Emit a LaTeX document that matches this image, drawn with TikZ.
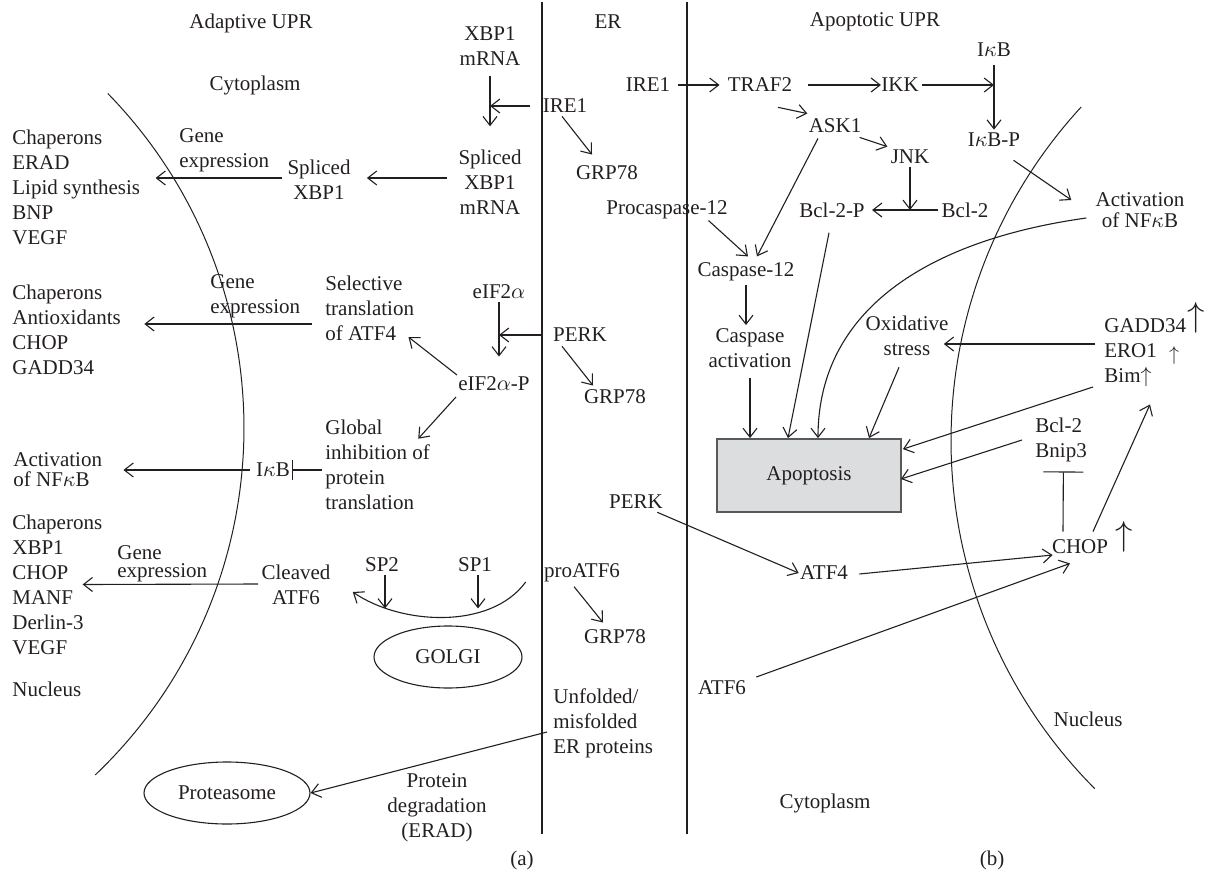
\documentclass[tikz,border=0pt]{standalone}
\usepackage{fontspec}
\setmainfont{Liberation Serif}
\usetikzlibrary{arrows.meta,shapes.geometric,calc}
\definecolor{ink}{HTML}{231F20}
\definecolor{boxfill}{HTML}{DCDDDE}
\definecolor{boxline}{HTML}{58595B}
\begin{document}
\begin{tikzpicture}[x=0.5pt,y=-0.5pt,
  every node/.style={font=\fontsize{10.5}{12.5}\selectfont, text=ink, inner sep=1.5pt},
  lbl/.style={align=center},
  lbll/.style={align=left, anchor=west},
  con/.style={draw=ink, line width=0.55pt},
  arr/.style={con, -{Straight Barb[length=4.5pt,width=7pt]}},
  inh/.style={con, -{Bar[width=10pt]}},
  inhwide/.style={con, -{Bar[width=20pt]}},
  oval/.style={ellipse, draw=ink, line width=0.55pt, inner sep=0pt},
  upglyph/.style={inner sep=0pt, text=ink}
]
\useasboundingbox (0,0) rectangle (1216,884);

% membranes
\draw[con] (542,2) -- (542,834);
\draw[con] (687,2) -- (687,834);
\draw[draw=ink, line width=0.5pt] plot[domain=-44.3:46.4, samples=90] ({-235+479*cos(\x)}, {428+479*sin(\x)});
\draw[draw=ink, line width=0.5pt] plot[domain=222.6:135.1, samples=90] ({1444+493*cos(\x)}, {440.7+493*sin(\x)});

% ---------------- left panel ----------------
\node (adapt) at (251,23) {Adaptive UPR};
\node (cytoL) at (255,85) {Cytoplasm};
\node (er) at (608,22) {ER};
\node[lbll] (prodA) at (9,187) {Chaperons\\ERAD\\Lipid synthesis\\BNP\\VEGF};
\node[lbll] (geneA) at (176,150) {Gene\\expression};
\node[lbl] (sxbp) at (319,180) {Spliced\\XBP1};
\node[lbl] (xbpm) at (490,46) {XBP1\\mRNA};
\node[lbl] (sxbpm) at (490,182) {Spliced\\XBP1\\mRNA};
\node (ireL) at (565,106) {IRE1};
\node (grpA) at (607,173) {GRP78};

\node[lbll] (prodB) at (9,330) {Chaperons\\Antioxidants\\CHOP\\GADD34};
\node[lbll] (geneB) at (207,296) {Gene\\expression};
\node[lbll] (sel) at (322,308) {Selective\\translation\\of ATF4};
\node (eif) at (499,292) {eIF2$\alpha$};
\node (eifp) at (494,384) {eIF2$\alpha$-P};
\node (perkL) at (580,335) {PERK};
\node (grpB) at (615,397) {GRP78};
\node[lbll] (glob) at (322,465) {Global\\inhibition of\\protein\\translation};
\node (ikbL) at (273,470) {I$\kappa$B};
\node[lbll] (actL) at (10,470) {Activation\\[-2.5pt]of NF$\kappa$B};

\node[lbll] (prodC) at (9,584.5) {Chaperons\\XBP1\\CHOP\\MANF\\Derlin-3\\VEGF};
\node[lbll] (geneC) at (114,564) {Gene\\[-3.5pt]expression};
\node[lbl] (clv) at (296,585) {Cleaved\\ATF6};
\node (sp2) at (382,565) {SP2};
\node (sp1) at (475,565) {SP1};
\node (proatf) at (582,573) {proATF6};
\node (grpC) at (615,637) {GRP78};
\node[oval, minimum width=74pt, minimum height=31pt] (golgi) at (448,657) {GOLGI};
\node[lbll] (nucL) at (9,689) {Nucleus};
\node[lbll] (unf) at (550,723) {Unfolded/\\misfolded\\ER proteins};
\node[oval, minimum width=83pt, minimum height=31pt] (prot) at (227,793) {Proteasome};
\node[lbl] (deg) at (437,808) {Protein\\degradation\\(ERAD)};
\node (capa) at (522,860) {(a)};

% left connectors
\draw[arr, shorten <=3.5pt, shorten >=10pt] (xbpm.south) -- (xbpm.south |- sxbpm.north);
\draw[arr] ($(ireL.west)+(-9,0)$) -- (ireL.west -| xbpm.south);
\draw[arr] ($(ireL.south)+(-3,0)$) -- ($(grpA.north)+(-15,-8)$);
\draw[arr] ($(sxbpm.west)+(-8,-4)$) -- ($(sxbp.east)+(13,-2)$);
\draw[arr] ($(sxbp.west)+(-2,-2)$) -- ($(prodA.east)+(12,-9)$);
\draw[arr] ($(perkL.west)+(-8,0)$) -- (perkL.west -| eif.south);
\draw[arr, shorten >=8.5pt] (eif.south) -- (eif.south |- eifp.north);
\draw[arr] ($(perkL.south)+(-18,1)$) -- ($(grpB.north)+(-22,-1)$);
\draw[arr] ($(eifp.west)+(2,-9)$) -- ($(sel.east)+(-9,29)$);
\draw[arr] ($(eifp.west)+(1,13)$) -- ($(glob.north east)+(-15,22)$);
\draw[arr] ($(sel.west)+(-10,16)$) -- ($(prodB.east)+(20,-6)$);
\draw[inh] ($(glob.west)+(0,5)$) -- ($(ikbL.east)+(-1,0)$);
\draw[arr] ($(ikbL.west)+(-3,0)$) -- ($(actL.east)+(18,0)$);
\draw[arr] ($(clv.west)+(0,-1)$) -- ($(prodC.east)+(-23,0)$);
\draw[arr] ($(sp2.south)+(3,0)$) -- ++(0,33);
\draw[arr] ($(sp1.south)+(3,0)$) -- ++(0,33);
\draw[arr] ($(proatf.west)+(-15,9)$) .. controls +(-35,48) and +(48,33) .. ($(clv.east)+(19,7)$);
\draw[arr] ($(proatf.south)+(-8,1)$) -- ($(grpC.north)+(-12,-4)$);
\draw[arr] ($(unf.west)+(-3,9)$) -- (prot.east);

% ---------------- right panel ----------------
\node (apop) at (875,22) {Apoptotic UPR};
\node (ireR) at (648,85) {IRE1};
\node (traf) at (760,85) {TRAF2};
\node (ikk) at (900,85) {IKK};
\node (ikb) at (994,50) {I$\kappa$B};
\node (ikbp) at (994,140) {I$\kappa$B-P};
\node (ask) at (835,126) {ASK1};
\node (jnk) at (910,157) {JNK};
\node (bclp) at (832,210) {Bcl-2-P};
\node (bcl) at (965,210) {Bcl-2};
\node (procasp) at (667,210) {Procaspase-12};
\node (casp) at (746,272) {Caspase-12};
\node[lbl] (actR) at (1140,210) {Activation\\[-2pt]of NF$\kappa$B};
\node[lbl] (caspact) at (750,348) {Caspase\\activation};
\node[lbl] (oxi) at (907,336) {Oxidative\\stress};
\node[draw=boxline, fill=boxfill, line width=0.9pt, minimum width=92pt, minimum height=36.5pt] (apbox) at (809,475.5) {Apoptosis};
\node[lbll] (gadd) at (1101,353) {GADD34\\ERO1\\Bim$\uparrow$};
\node[upglyph, font=\fontsize{16}{16}\selectfont] (upg) at (1196,318) {$\uparrow$};
\node[upglyph, font=\fontsize{10}{10}\selectfont] (upe) at (1174,355) {$\uparrow$};
\node[lbll] (bclb) at (1032,440) {Bcl-2\\Bnip3};
\node (chop) at (1080,547) {CHOP};
\node[upglyph, font=\fontsize{17.5}{17.5}\selectfont] (upc) at (1124,537) {$\uparrow$};
\node (perkR) at (636,502) {PERK};
\node (atf4) at (824,573) {ATF4};
\node (atf6) at (722,688) {ATF6};
\node (nucR) at (1088,719) {Nucleus};
\node (cytoR) at (825,803) {Cytoplasm};
\node (capb) at (992,860) {(b)};

% right connectors
\draw[arr] ($(ireR.east)+(4,0)$) -- ($(traf.west)+(-5,0)$);
\draw[arr] ($(traf.east)+(13,0)$) -- ($(ikk.west)+(3,0)$);
\draw[arr] (ikk.east) -- (ikk.east -| ikb.south);
\draw[arr, shorten <=2.5pt] (ikb.south) -- (ikb.south |- ikbp.north);
\draw[arr] ($(traf.south)+(18,12)$) -- ($(ask.north west)+(2,-2)$);
\draw[arr] ($(ask.south east)+(-5,1)$) -- (jnk.north west);
\draw[arr] (jnk.south) -- (jnk.south |- bcl.west);
\draw[arr] (bcl.west) -- ($(bclp.east)+(4,0)$);
\draw[arr] ($(ask.south)+(-17,2)$) -- ($(casp.north)+(11,-3)$);
\draw[arr] ($(procasp.south east)+(-22.5,-2)$) -- ($(casp.north)+(2,-3)$);
\draw[arr] (casp.south) -- (casp.south |- caspact.north);
\draw[arr, shorten <=3.5pt] (caspact.south) -- (caspact.south |- apbox.north);
\draw[arr] ($(bclp.south)+(-3,12)$) -- ($(apbox.north)+(-21,0)$);
\draw[arr] ($(actR.west)+(-6,8)$) .. controls +(-157,22) and +(0,-129) .. ($(apbox.north)+(9,0)$);
\draw[arr] ($(oxi.south)+(-8,8)$) -- ($(apbox.north)+(60,0)$);
\draw[arr] ($(ikbp.south east)+(-10,10)$) -- ($(actR.west)+(-21,-10)$);
\draw[arr] ($(gadd.west)+(-6,-9)$) -- ($(oxi.east)+(-8,8)$);
\draw[arr] ($(gadd.west)+(-8,34)$) -- ($(apbox.north east)+(1,11)$);
\draw[arr] ($(bclb.west)+(-10,0)$) -- ($(apbox.east)+(-1,3.5)$);
\draw[inhwide] ($(chop.north)+(-17,-5)$) -- ($(bclb.south)+(2.3,6)$);
\draw[arr] ($(chop.north)+(13,-5)$) -- ($(gadd.south west)+(49,14)$);
\draw[arr] ($(perkR.south east)+(-9,0)$) -- ($(atf4.west)+(2,0)$);
\draw[arr] ($(atf4.east)+(8,1)$) -- ($(chop.west)+(4,8)$);
\draw[arr] ($(atf6.east)+(7,-11)$) -- ($(chop.south)+(-10,6)$);
\end{tikzpicture}
\end{document}
